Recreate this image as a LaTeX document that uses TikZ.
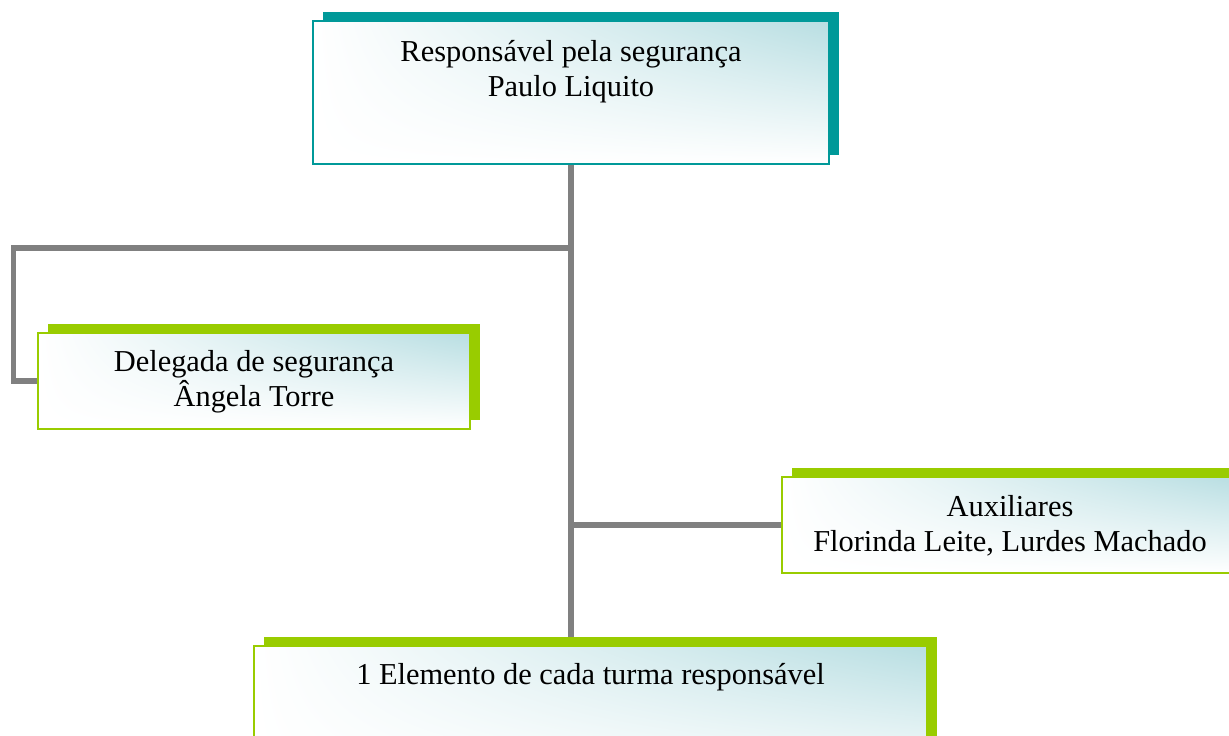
\documentclass[tikz,border=0pt]{standalone}
\usepackage{fontspec}
\setmainfont{Liberation Serif}
\usepackage[]{tikz}
\usetikzlibrary{positioning,shadows,shadings,backgrounds}
\definecolor{azulPetroleo}{RGB}{0,153,153}
\definecolor{verdeLima}{RGB}{153,204,0}
\definecolor{cinzaLigacao}{RGB}{128,128,128}
\definecolor{tomAgua}{RGB}{184,222,226}

\tikzset{
  caixa/.style={draw=#1, line width=0.04cm, anchor=north, align=center,
    inner xsep=0pt, inner ysep=0pt,
    upper right=tomAgua, upper left=white, lower left=white, lower right=white,
    general shadow={fill=#1, shadow xshift=0.2cm, shadow yshift=0.18cm},
    font=\fontsize{17.3}{19.9}\selectfont},
  ligacao/.style={draw=cinzaLigacao, line width=0.11cm}
}

\begin{document}
\begin{tikzpicture}
        \useasboundingbox (0,0) rectangle (24.58,-14.72);
        \clip (0,0) rectangle (24.58,-14.72); % a caixa de baixo sai da folha
        \node[caixa=azulPetroleo, minimum width=10.32cm, text height=1.50cm, text depth=1.36cm]
          (resp) at (11.42,-0.40) {Responsável pela segurança\\Paulo Liquito};
        \node[caixa=verdeLima, minimum width=8.64cm, text height=1.46cm, text depth=0.46cm]
          (deleg) at (5.08,-6.64) {Delegada de segurança\\Ângela Torre};
        \node[caixa=verdeLima, minimum width=9.12cm, text height=1.48cm, text depth=0.44cm]
          (aux) at (20.20,-9.52) {Auxiliares\\Florinda Leite, Lurdes Machado};
        \node[caixa=verdeLima, minimum width=13.46cm, text height=0.76cm, text depth=2.10cm]
          (elem) at (11.81,-12.90) {1 Elemento de cada turma responsável};
        \coordinate (cotovelo) at (0.27,-4.96);
        \begin{scope}[on background layer] % ligações por baixo das caixas
        \draw[ligacao] (resp.south) -- (resp.south |- elem.north);
        \draw[ligacao] (resp.south |- cotovelo) -- (cotovelo) |- (deleg.west);
        \draw[ligacao] (resp.south |- aux.west) -- (aux.west);
        \end{scope}
\end{tikzpicture}
\end{document}
